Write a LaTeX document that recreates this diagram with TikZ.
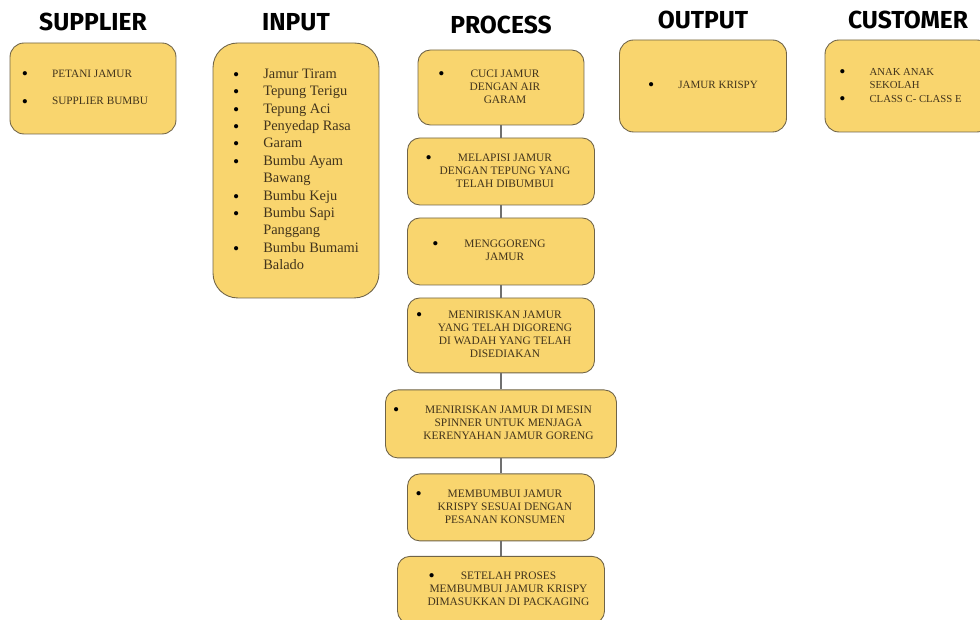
\documentclass[tikz,border=0pt]{standalone}
\usepackage{fontspec}
\setmainfont{Liberation Serif}
\newfontfamily\headfont{Fira Sans}
\usetikzlibrary{positioning}
\definecolor{mustard}{RGB}{249,213,110}
\definecolor{boxline}{RGB}{112,100,72}
\definecolor{inkbrown}{RGB}{66,52,28}
\definecolor{linegray}{RGB}{112,112,112}

\newcommand{\bul}{\raisebox{-1.2pt}{\color{black}\fontsize{10}{10}\selectfont\textbullet}}
% centred process text, bullet hung before the first line
\newcommand{\pstep}[2][0.16cm]{\hspace*{#1}\begin{tabular}{@{}c@{}}\llap{\bul\hspace{0.52cm}}#2\end{tabular}}
% left aligned bullet list
\newcommand{\blist}[2][0cm]{\begin{tabular}{@{}c@{\hspace{0.48cm}}l@{}}#2\end{tabular}\hspace*{#1}}

\tikzset{
  head/.style={font=\headfont\bfseries\fontsize{14}{14}\selectfont, text=black, inner sep=0pt},
  card/.style={draw=boxline, fill=mustard, line width=0.5pt, rounded corners=7pt, text=inkbrown, inner sep=0pt, align=center},
  pbox/.style={card, font=\fontsize{6.5}{7.4}\selectfont},
  link/.style={draw=linegray, line width=0.8pt}
}

\begin{document}
\begin{tikzpicture}[x=0.02cm, y=-0.02cm, node distance = 1.66cm, on grid]
			\useasboundingbox (0,0) rectangle (980,619);
			% headers
			\node [head] (hsup) at (93,22) {SUPPLIER};
			\node [head] (hin) at (296,22) {INPUT};
			\node [head] (hpro) at (501,25) {PROCESS};
			\node [head] (hout) at (703,20) {OUTPUT};
			\node [head] (hcus) at (908,20) {CUSTOMER};
			% side columns
			\node [card, minimum width=3.32cm, minimum height=1.82cm, rounded corners=8pt, font=\fontsize{6.4}{7.7}\selectfont] (sup) [below =1.33cm of hsup]
				{\blist[0.32cm]{\bul & PETANI JAMUR\\[8pt] \bul & SUPPLIER BUMBU}};
			\node [card, minimum width=3.32cm, minimum height=5.1cm, rounded corners=14pt, font=\fontsize{8.2}{9.9}\selectfont] (inp) [below =2.97cm of hin]
				{\blist{\bul & Jamur Tiram\\ \bul & Tepung Terigu\\ \bul & Tepung Aci\\ \bul & Penyedap Rasa\\ \bul & Garam\\ \bul & Bumbu Ayam\\ & Bawang\\ \bul & Bumbu Keju\\ \bul & Bumbu Sapi\\ & Panggang\\ \bul & Bumbu Bumami\\ & Balado}};
			\node [card, minimum width=3.34cm, minimum height=1.84cm, rounded corners=8pt, font=\fontsize{6.3}{7.6}\selectfont] (out) [below =1.32cm of hout]
				{\blist{\bul & JAMUR KRISPY}};
			\node [card, minimum width=3.32cm, minimum height=1.84cm, rounded corners=8pt, font=\fontsize{6.1}{7.7}\selectfont] (cus) [below =1.32cm of hcus]
				{\blist[0.3cm]{\bul & ANAK ANAK\\ & SEKOLAH\\ \bul & CLASS C- CLASS E}};
			% process steps
			\node [pbox, minimum width=3.32cm, minimum height=1.5cm] (p1) [below =1.25cm of hpro]
				{\pstep{CUCI JAMUR\\ DENGAN AIR\\ GARAM}};
			\node [pbox, minimum width=3.74cm, minimum height=1.34cm] (p2) [below =1.68cm of p1]
				{\pstep{MELAPISI JAMUR\\ DENGAN TEPUNG YANG\\ TELAH DIBUMBUI}};
			\node [pbox, minimum width=3.74cm, minimum height=1.34cm] (p3) [below =1.6cm of p2]
				{\pstep{MENGGORENG\\ JAMUR}};
			\node [pbox, minimum width=3.74cm, minimum height=1.5cm] (p4) [below =1.68cm of p3]
				{\pstep{MENIRISKAN JAMUR\\ YANG TELAH DIGORENG\\ DI WADAH YANG TELAH\\ DISEDIAKAN}};
			\node [pbox, minimum width=4.62cm, minimum height=1.36cm] (p5) [below =1.77cm of p4]
				{\pstep[0.3cm]{MENIRISKAN JAMUR DI MESIN\\ SPINNER UNTUK MENJAGA\\ KERENYAHAN JAMUR GORENG}};
			\node [pbox, minimum width=3.74cm, minimum height=1.34cm] (p6) [below =1.67cm of p5]
				{\pstep{MEMBUMBUI JAMUR\\ KRISPY SESUAI DENGAN\\ PESANAN KONSUMEN}};
			\node [pbox, minimum width=4.14cm, minimum height=1.34cm] (p7) [below =1.65cm of p6]
				{\pstep[0.3cm]{SETELAH PROSES\\ MEMBUMBUI JAMUR KRISPY\\ DIMASUKKAN DI PACKAGING}};
			\path [link] (p1) -- (p2);
			\path [link] (p2) -- (p3);
			\path [link] (p3) -- (p4);
			\path [link] (p4) -- (p5);
			\path [link] (p5) -- (p6);
			\path [link] (p6) -- (p7);
\end{tikzpicture}
\end{document}
